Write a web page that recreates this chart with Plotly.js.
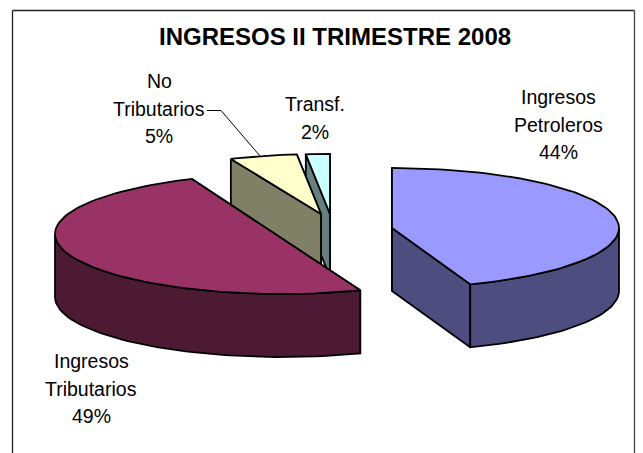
<!DOCTYPE html>
<html><head><meta charset="utf-8">
<script src="https://cdn.plot.ly/plotly-3.0.1.min.js"></script>
<style>html,body{margin:0;padding:0;background:#fff;overflow:hidden}#c{width:643px;height:453px}</style>
</head><body><div id="c"></div>
<script>
// data
const titleText = "INGRESOS II TRIMESTRE 2008";
const categories = ["Ingresos Petroleros", "Ingresos Tributarios", "No Tributarios", "Transf."];
const labelLines = [["Ingresos","Petroleros"],["Ingresos","Tributarios"],["No","Tributarios"],["Transf."]];
const values = [44.4, 49.1, 4.8, 1.7];
// styles
const topColors = ["#9999FF","#993366","#FFFFCC","#CCFFFF"];
const sideColors = ["#4D4D80","#4D1A33","#808066","#668080"];
// geometry of the exploded 3-D pie, in page pixels
const centers = [[392,228],[282,234],[321,214],[330,214]];
const apexDrop = [0,4.5,0,0];
const labelPos = [[558,97],[91,361],[159,81],[315,104]];
const RX = 227, RY = 60, DEPTH = 63, LINE_PITCH = 27.5, FONT = 19.5;

const total = values.reduce((a,b)=>a+b,0);
function pt(c,deg,dy){const t=deg*Math.PI/180;return [c[0]+RX*Math.sin(t), c[1]-RY*Math.cos(t)+(dy||0)];}
function poly(points,fill){
  const xs=points.map(p=>p[0]), ys=points.map(p=>p[1]);
  xs.push(xs[0]); ys.push(ys[0]);
  return {type:"scatter",mode:"lines",x:xs,y:ys,fill:"toself",fillcolor:fill,
    line:{color:"#000",width:1.8},hoverinfo:"skip",showlegend:false};
}
function arc(c,a,b,dy){const out=[];const n=Math.max(2,Math.ceil(Math.abs(b-a)/2));
  for(let i=0;i<=n;i++)out.push(pt(c,a+(b-a)*i/n,dy));return out;}

const spans=[];let acc=0;
values.forEach(v=>{const s=acc;acc+=v/total*360;spans.push([s,acc]);});

const wedgeTraces=i=>{
  const c=centers[i],[a,b]=spans[i],out=[];
  const apex=[c[0],c[1]+apexDrop[i]];
  const cb=[apex[0],apex[1]+DEPTH];
  const pe=pt(c,b),pe2=pt(c,b,DEPTH),ps=pt(c,a),ps2=pt(c,a,DEPTH);
  out.push(poly([apex,pe,pe2,cb],sideColors[i]));
  out.push(poly([apex,ps,ps2,cb],sideColors[i]));
  const ra=Math.max(a,90),rb=Math.min(b,270);
  if(rb>ra){out.push(poly(arc(c,ra,rb,0).concat(arc(c,rb,ra,DEPTH)),sideColors[i]));}
  out.push(poly([apex].concat(arc(c,a,b,0)),topColors[i]));
  return out;
};
const traces=[];
[3,2,0,1].forEach(i=>wedgeTraces(i).forEach(t=>traces.push(t)));

traces.push({type:"scatter",mode:"lines",x:[207,221,260],y:[110.5,110.5,156],
  line:{color:"#000",width:1},hoverinfo:"skip",showlegend:false});

const annotations=[{text:"<b>"+titleText+"</b>",x:335,y:36,xref:"x",yref:"y",showarrow:false,
  xanchor:"center",yanchor:"middle",font:{family:"Liberation Sans, Arial, sans-serif",size:24,color:"#000"}}];
categories.forEach((cat,i)=>{
  const lines=labelLines[i].concat([Math.round(values[i]/total*100)+"%"]);
  lines.forEach((ln,k)=>annotations.push({text:ln,x:labelPos[i][0],y:labelPos[i][1]+k*LINE_PITCH,xref:"x",yref:"y",
    showarrow:false,xanchor:"center",yanchor:"middle",
    font:{family:"Liberation Sans, Arial, sans-serif",size:FONT,color:"#000"}}));
});

const layout={width:643,height:453,margin:{l:0,r:0,t:0,b:0},paper_bgcolor:"#fff",plot_bgcolor:"#fff",showlegend:false,
  xaxis:{range:[0,643],visible:false,fixedrange:true},
  yaxis:{range:[453,0],visible:false,fixedrange:true},
  annotations,
  shapes:[
    {type:"line",x0:12.5,x1:12.5,y0:10.5,y1:453,line:{color:"#222",width:1.3}},
    {type:"line",x0:12.5,x1:634.5,y0:10.5,y1:10.5,line:{color:"#222",width:1.3}},
    {type:"line",x0:634.5,x1:634.5,y0:10.5,y1:453,line:{color:"#444",width:1.3}}
  ]};
Plotly.newPlot("c",traces,layout,{displayModeBar:false,staticPlot:true});
</script></body></html>
